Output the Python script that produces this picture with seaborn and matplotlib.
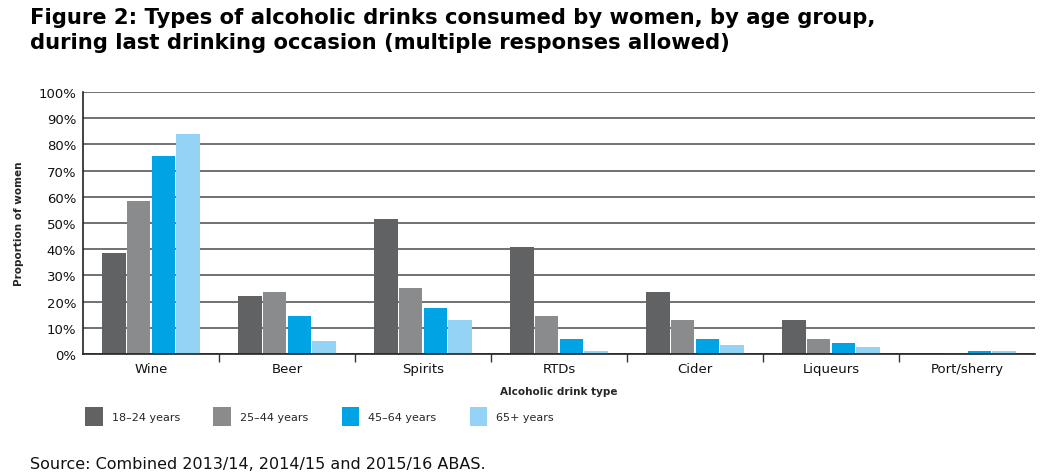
import matplotlib
matplotlib.use("Agg")
from matplotlib import pyplot as plt
import pandas as pd
import seaborn as sns

drink_types = ["Wine", "Beer", "Spirits", "RTDs", "Cider", "Liqueurs", "Port/sherry"]
age_groups = ["18\u201324 years", "25\u201344 years", "45\u201364 years", "65+ years"]

age_18_24 = [38.5, 22.1, 51.5, 40.8, 23.6, 13.0, 0.4]
age_25_44 = [58.3, 23.6, 25.2, 14.5, 13.0, 5.7, 0.3]
age_45_64 = [75.5, 14.5, 17.5, 5.7, 5.7, 4.2, 1.0]
age_65_plus = [83.9, 5.0, 13.0, 1.1, 3.4, 2.7, 1.0]

colours = ["#616264", "#8a8b8d", "#00a3e4", "#94d3f5"]

rows = []
for age, vals in zip(age_groups, [age_18_24, age_25_44, age_45_64, age_65_plus]):
    for drink, v in zip(drink_types, vals):
        rows.append({"drink": drink, "age": age, "pct": v})
df = pd.DataFrame(rows)

sns.set_style("white")
plt.rcParams["font.family"] = ["DejaVu Sans"]

fig = plt.figure(figsize=(10.43, 4.77), dpi=100)
ax = fig.add_axes([0.0796, 0.2558, 0.9127, 0.5492])

sns.barplot(data=df, x="drink", y="pct", hue="age", order=drink_types,
            hue_order=age_groups, palette=colours, width=0.73, gap=0.05,
            saturation=1, linewidth=0, ax=ax, legend=True)

ax.set_ylim(0, 100)
ax.set_xlim(-0.5, len(drink_types) - 0.5)
ax.set_yticks(range(0, 101, 10))
ax.set_yticklabels([f"{t}%" for t in range(0, 101, 10)], fontsize=9.5, color="#111")
ax.yaxis.grid(True, color="#4a4a4a", linewidth=1.1)
ax.set_axisbelow(True)
ax.tick_params(axis="y", length=0, pad=5)

ax.set_xticks(range(len(drink_types)))
ax.set_xticklabels(drink_types, fontsize=9.5, color="#111")
ax.set_xticks([i + 0.5 for i in range(len(drink_types) - 1)], minor=True)
ax.tick_params(axis="x", which="major", length=0, pad=6)
ax.tick_params(axis="x", which="minor", length=6, width=1, color="#333", direction="out", bottom=True)

for side in ["top", "right"]:
    ax.spines[side].set_visible(False)
for side in ["left", "bottom"]:
    ax.spines[side].set_color("#222")
    ax.spines[side].set_linewidth(1.2)

ax.set_xlabel("Alcoholic drink type", fontsize=7.5, fontweight="bold", labelpad=8)
ax.set_ylabel("Proportion of women", fontsize=7.5, fontweight="bold", labelpad=10)

handles, labels = ax.get_legend_handles_labels()
ax.get_legend().remove()
fig.legend(handles, labels, loc="center left", bbox_to_anchor=(0.072, 0.125),
           ncol=4, frameon=False, fontsize=8, handlelength=1.6, handleheight=2.2,
           handletextpad=0.8, columnspacing=3.0)

fig.text(30 / 1043, 1 - 8 / 477,
         "Figure 2: Types of alcoholic drinks consumed by women, by age group,\n"
         "during last drinking occasion (multiple responses allowed)",
         fontsize=15.2, fontweight="bold", va="top", ha="left", linespacing=1.3,
         color="black")
fig.text(30 / 1043, 1 - 465 / 477, "Source: Combined 2013/14, 2014/15 and 2015/16 ABAS.",
         fontsize=11.5, va="center", ha="left", color="#111")

plt.savefig("out.png", dpi=100)
